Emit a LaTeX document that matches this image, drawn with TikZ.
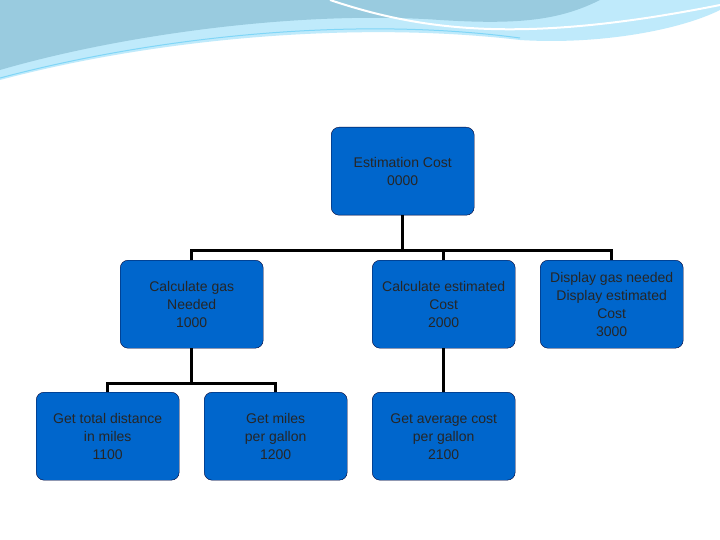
\documentclass[tikz,border=0pt]{standalone}
\usepackage{fontspec}
\setmainfont{Liberation Sans}
\begin{document}
\begin{tikzpicture}[x=1pt,y=-1pt,
  bx/.style={draw=black!80!blue,fill={rgb,255:red,0;green,102;blue,204},rounded corners=8pt,minimum width=143pt,minimum height=88pt,align=center,font=\fontsize{14}{18}\selectfont,inner sep=0pt,anchor=north west,text=black!85},
  ln/.style={line width=3pt,black}]
\useasboundingbox (0,0) rectangle (720,540);
\fill[white] (0,0) rectangle (720,540);
% top decoration
\fill[cyan!25] (0,0) -- (0,80) .. controls (150,40) and (350,20) .. (520,40) .. controls (600,45) and (680,30) .. (720,10) -- (720,0) -- cycle;
\fill[cyan!45!teal!45] (0,0) -- (0,70) .. controls (120,35) and (300,10) .. (440,20) .. controls (520,25) and (560,20) .. (600,0) -- cycle;
\draw[white,line width=2pt] (330,0) .. controls (420,30) and (520,45) .. (720,5);
\draw[cyan!50,line width=1pt] (0,78) .. controls (150,38) and (350,15) .. (520,38);
\node[bx] (r) at (331,127) {Estimation Cost\\0000};
\node[bx] (a) at (120,260) {Calculate gas\\Needed\\1000};
\node[bx] (b) at (372,260) {Calculate estimated\\Cost\\2000};
\node[bx] (c) at (540,260) {Display gas needed\\Display estimated\\Cost\\3000};
\node[bx] (d) at (36,392) {Get total distance\\in miles\\1100};
\node[bx] (e) at (204,392) {Get miles\\per gallon\\1200};
\node[bx] (f) at (372,392) {Get average cost\\per gallon\\2100};
\coordinate (j) at ([yshift=-35pt]r.south);
\draw[ln] (r.south) -- (j);
\draw[ln] (a.north) |- (j) -| (c.north);
\draw[ln] (b.north) -- (b.north |- j);
\coordinate (k) at ([yshift=-35pt]a.south);
\draw[ln] (a.south) -- (k);
\draw[ln] (d.north) |- (k) -| (e.north);
\draw[ln] (b.south) -- (f.north);
\end{tikzpicture}
\end{document}
